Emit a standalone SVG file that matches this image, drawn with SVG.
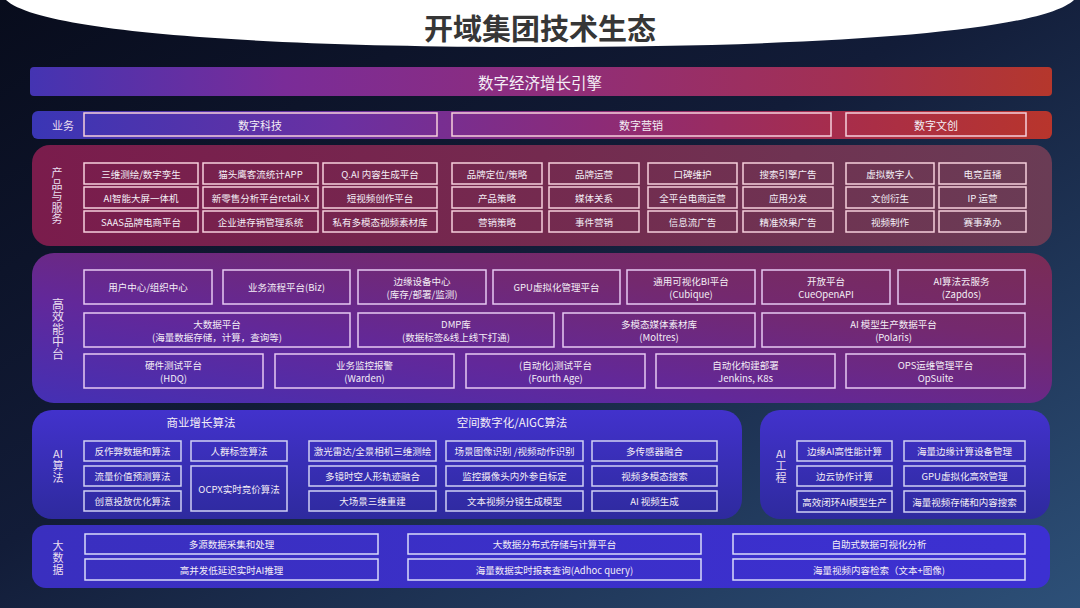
<svg xmlns="http://www.w3.org/2000/svg" width="1080" height="608" viewBox="0 0 1080 608">
<defs>
<linearGradient id="bg" x1="0" y1="0" x2="1" y2="1">
<stop offset="0" stop-color="#080c1c"/>
<stop offset="0.45" stop-color="#121c38"/>
<stop offset="1" stop-color="#2d5078"/>
</linearGradient>
<linearGradient id="banner" x1="0" y1="0" x2="1" y2="0">
<stop offset="0" stop-color="#4434b2"/>
<stop offset="0.25" stop-color="#7a2c98"/>
<stop offset="0.5" stop-color="#8e2d7c"/>
<stop offset="0.8" stop-color="#a33052"/>
<stop offset="1" stop-color="#b5372c"/>
</linearGradient>
<linearGradient id="biz" x1="0" y1="0" x2="1" y2="0">
<stop offset="0" stop-color="#3a36b5"/>
<stop offset="0.3" stop-color="#6a30a2"/>
<stop offset="0.55" stop-color="#8c2b78"/>
<stop offset="0.8" stop-color="#a82d4a"/>
<stop offset="1" stop-color="#b8352c"/>
</linearGradient>
<linearGradient id="prod" x1="0" y1="0" x2="1" y2="0">
<stop offset="0" stop-color="#7a1c4c"/>
<stop offset="0.5" stop-color="#742a4f"/>
<stop offset="1" stop-color="#6a3c55"/>
</linearGradient>
<linearGradient id="plat" x1="0" y1="1" x2="1" y2="0">
<stop offset="0" stop-color="#4430b4"/>
<stop offset="0.35" stop-color="#62289a"/>
<stop offset="0.7" stop-color="#74296e"/>
<stop offset="1" stop-color="#7a2c55"/>
</linearGradient>
<linearGradient id="ai" x1="0" y1="0" x2="0" y2="1">
<stop offset="0" stop-color="#4232cc"/>
<stop offset="1" stop-color="#2e2a9e"/>
</linearGradient>
<linearGradient id="bd" x1="0" y1="0" x2="1" y2="0">
<stop offset="0" stop-color="#3a2fbf"/>
<stop offset="1" stop-color="#3c30d2"/>
</linearGradient>
<style>
text{font-family:"Noto Sans CJK SC","Noto Sans",sans-serif;fill:#f4eef6;text-anchor:middle;dominant-baseline:central}
.t{font-size:9.5px}
.lb{font-size:11px;fill:#eadff0}
.v{writing-mode:vertical-rl;text-anchor:start;font-size:11px;fill:#eadff0;letter-spacing:0.5px}
.pb{fill:none;stroke:#f6cfdc;stroke-width:1.5}
.mb{fill:none;stroke:#e6c9f2;stroke-width:1.5}
.ab{fill:none;stroke:#cfd0f4;stroke-width:1.5}
.db{fill:none;stroke:#d9dafa;stroke-width:1.5}
</style>
</defs>
<rect width="1080" height="608" fill="url(#bg)"/>
<path d="M6 0 C40 32 260 47 540 47 C820 47 1040 32 1074 0 Z" fill="#ffffff"/>
<text x="540" y="27" style="font-size:29px;font-weight:bold;fill:#363636">开域集团技术生态</text>

<g id="banner">
<rect x="30" y="67" width="1022" height="29" rx="4" fill="url(#banner)"/>
<text x="540" y="81.5" style="font-size:15.5px">数字经济增长引擎</text>
</g>

<g id="business">
<rect x="32" y="111" width="1020" height="28" rx="6" fill="url(#biz)"/>
<text x="63" y="125" class="lb">业务</text>
<g id="biz-tech"><rect x="84" y="113" width="353" height="23" class="pb"/><text x="260" y="124.5" style="font-size:11px">数字科技</text></g>
<g id="biz-mkt"><rect x="452" y="113" width="379" height="23" class="pb"/><text x="641" y="124.5" style="font-size:11px">数字营销</text></g>
<g id="biz-culture"><rect x="846" y="113" width="180" height="23" class="pb"/><text x="936" y="124.5" style="font-size:11px">数字文创</text></g>
</g>

<g id="products">
<rect x="32" y="145" width="1020" height="101" rx="18" fill="url(#prod)"/>
<text x="57" y="167.5" class="v">产品与服务</text>
<g id="p1"><rect x="84" y="163" width="114" height="21" class="pb"/><text x="141" y="173.5" class="t">三维测绘/数字孪生</text></g>
<g id="p2"><rect x="203" y="163" width="115" height="21" class="pb"/><text x="260.5" y="173.5" class="t">猫头鹰客流统计APP</text></g>
<g id="p3"><rect x="323" y="163" width="114" height="21" class="pb"/><text x="380" y="173.5" class="t">Q.AI 内容生成平台</text></g>
<g id="p4"><rect x="84" y="187" width="114" height="21" class="pb"/><text x="141" y="197.5" class="t">AI智能大屏一体机</text></g>
<g id="p5"><rect x="203" y="187" width="115" height="21" class="pb"/><text x="260.5" y="197.5" class="t">新零售分析平台retail-X</text></g>
<g id="p6"><rect x="323" y="187" width="114" height="21" class="pb"/><text x="380" y="197.5" class="t">短视频创作平台</text></g>
<g id="p7"><rect x="84" y="211" width="114" height="21" class="pb"/><text x="141" y="221.5" class="t">SAAS品牌电商平台</text></g>
<g id="p8"><rect x="203" y="211" width="115" height="21" class="pb"/><text x="260.5" y="221.5" class="t">企业进存销管理系统</text></g>
<g id="p9"><rect x="323" y="211" width="114" height="21" class="pb"/><text x="380" y="221.5" class="t">私有多模态视频素材库</text></g>

<g id="m1"><rect x="452" y="163" width="90" height="21" class="pb"/><text x="497" y="173.5" class="t">品牌定位/策略</text></g>
<g id="m2"><rect x="549" y="163" width="90" height="21" class="pb"/><text x="594" y="173.5" class="t">品牌运营</text></g>
<g id="m3"><rect x="648" y="163" width="89" height="21" class="pb"/><text x="692.5" y="173.5" class="t">口碑维护</text></g>
<g id="m4"><rect x="743" y="163" width="90" height="21" class="pb"/><text x="788" y="173.5" class="t">搜索引擎广告</text></g>
<g id="m5"><rect x="452" y="187" width="90" height="21" class="pb"/><text x="497" y="197.5" class="t">产品策略</text></g>
<g id="m6"><rect x="549" y="187" width="90" height="21" class="pb"/><text x="594" y="197.5" class="t">媒体关系</text></g>
<g id="m7"><rect x="648" y="187" width="89" height="21" class="pb"/><text x="692.5" y="197.5" class="t">全平台电商运营</text></g>
<g id="m8"><rect x="743" y="187" width="90" height="21" class="pb"/><text x="788" y="197.5" class="t">应用分发</text></g>
<g id="m9"><rect x="452" y="211" width="90" height="21" class="pb"/><text x="497" y="221.5" class="t">营销策略</text></g>
<g id="m10"><rect x="549" y="211" width="90" height="21" class="pb"/><text x="594" y="221.5" class="t">事件营销</text></g>
<g id="m11"><rect x="648" y="211" width="89" height="21" class="pb"/><text x="692.5" y="221.5" class="t">信息流广告</text></g>
<g id="m12"><rect x="743" y="211" width="90" height="21" class="pb"/><text x="788" y="221.5" class="t">精准效果广告</text></g>

<g id="c1"><rect x="846" y="163" width="88" height="21" class="pb"/><text x="890" y="173.5" class="t">虚拟数字人</text></g>
<g id="c2"><rect x="939" y="163" width="87" height="21" class="pb"/><text x="982.5" y="173.5" class="t">电竞直播</text></g>
<g id="c3"><rect x="846" y="187" width="88" height="21" class="pb"/><text x="890" y="197.5" class="t">文创衍生</text></g>
<g id="c4"><rect x="939" y="187" width="87" height="21" class="pb"/><text x="982.5" y="197.5" class="t">IP 运营</text></g>
<g id="c5"><rect x="846" y="211" width="88" height="21" class="pb"/><text x="890" y="221.5" class="t">视频制作</text></g>
<g id="c6"><rect x="939" y="211" width="87" height="21" class="pb"/><text x="982.5" y="221.5" class="t">赛事承办</text></g>
</g>

<g id="platform">
<rect x="32" y="253" width="1020" height="150" rx="22" fill="url(#plat)"/>
<text x="58" y="298" class="v" style="font-size:12px">高效能中台</text>
<g id="h1"><rect x="84" y="270" width="128" height="34" class="mb"/><text x="148" y="287" class="t">用户中心/组织中心</text></g>
<g id="h2"><rect x="223" y="270" width="127" height="34" class="mb"/><text x="286.5" y="287" class="t">业务流程平台(Biz)</text></g>
<g id="h3"><rect x="358" y="270" width="128" height="34" class="mb"/><text x="422" y="280.5" class="t">边缘设备中心</text><text x="422" y="293.5" class="t">(库存/部署/监测)</text></g>
<g id="h4"><rect x="493" y="270" width="127" height="34" class="mb"/><text x="556.5" y="287" class="t">GPU虚拟化管理平台</text></g>
<g id="h5"><rect x="627" y="270" width="128" height="34" class="mb"/><text x="691" y="280.5" class="t">通用可视化BI平台</text><text x="691" y="293.5" class="t">(Cubique)</text></g>
<g id="h6"><rect x="762" y="270" width="128" height="34" class="mb"/><text x="826" y="280.5" class="t">开放平台</text><text x="826" y="293.5" class="t">CueOpenAPI</text></g>
<g id="h7"><rect x="898" y="270" width="127" height="34" class="mb"/><text x="961.5" y="280.5" class="t">AI算法云服务</text><text x="961.5" y="293.5" class="t">(Zapdos)</text></g>
<g id="h8"><rect x="84" y="313" width="266" height="34" class="mb"/><text x="217" y="323.5" class="t">大数据平台</text><text x="217" y="336.5" class="t">(海量数据存储，计算，查询等)</text></g>
<g id="h9"><rect x="358" y="313" width="196" height="34" class="mb"/><text x="456" y="323.5" class="t">DMP库</text><text x="456" y="336.5" class="t">(数据标签&amp;线上线下打通)</text></g>
<g id="h10"><rect x="563" y="313" width="192" height="34" class="mb"/><text x="659" y="323.5" class="t">多模态媒体素材库</text><text x="659" y="336.5" class="t">(Moltres)</text></g>
<g id="h11"><rect x="762" y="313" width="263" height="34" class="mb"/><text x="893.5" y="323.5" class="t">AI 模型生产数据平台</text><text x="893.5" y="336.5" class="t">(Polaris)</text></g>
<g id="h12"><rect x="84" y="354" width="179" height="34" class="mb"/><text x="173.5" y="364.5" class="t">硬件测试平台</text><text x="173.5" y="377.5" class="t">(HDQ)</text></g>
<g id="h13"><rect x="275" y="354" width="179" height="34" class="mb"/><text x="364.5" y="364.5" class="t">业务监控报警</text><text x="364.5" y="377.5" class="t">(Warden)</text></g>
<g id="h14"><rect x="466" y="354" width="179" height="34" class="mb"/><text x="555.5" y="364.5" class="t">(自动化)测试平台</text><text x="555.5" y="377.5" class="t">(Fourth Age)</text></g>
<g id="h15"><rect x="656" y="354" width="179" height="34" class="mb"/><text x="745.5" y="364.5" class="t">自动化构建部署</text><text x="745.5" y="377.5" class="t">Jenkins, K8s</text></g>
<g id="h16"><rect x="846" y="354" width="179" height="34" class="mb"/><text x="935.5" y="364.5" class="t">OPS运维管理平台</text><text x="935.5" y="377.5" class="t">OpSuite</text></g>
</g>

<g id="ai-algo">
<rect x="32" y="410" width="710" height="109" rx="20" fill="url(#ai)"/>
<text x="58" y="452.5" class="lb">AI</text>
<text x="58" y="460.5" class="v">算法</text>
<text x="201" y="422" style="font-size:11.5px">商业增长算法</text>
<text x="512" y="422" style="font-size:11.5px">空间数字化/AIGC算法</text>
<g id="a1"><rect x="84" y="441" width="97" height="20" class="ab"/><text x="132.5" y="451" class="t">反作弊数据和算法</text></g>
<g id="a2"><rect x="84" y="466" width="97" height="20" class="ab"/><text x="132.5" y="476" class="t">流量价值预测算法</text></g>
<g id="a3"><rect x="84" y="491" width="97" height="20" class="ab"/><text x="132.5" y="501" class="t">创意投放优化算法</text></g>
<g id="a4"><rect x="191" y="441" width="96" height="20" class="ab"/><text x="239" y="451" class="t">人群标签算法</text></g>
<g id="a5"><rect x="191" y="466" width="96" height="45" class="ab"/><text x="239" y="488.5" class="t">OCPX实时竞价算法</text></g>
<g id="a6"><rect x="309" y="441" width="127" height="20" class="ab"/><text x="372.5" y="451" class="t">激光雷达/全景相机三维测绘</text></g>
<g id="a7"><rect x="309" y="466" width="127" height="20" class="ab"/><text x="372.5" y="476" class="t">多镜时空人形轨迹融合</text></g>
<g id="a8"><rect x="309" y="491" width="127" height="20" class="ab"/><text x="372.5" y="501" class="t">大场景三维重建</text></g>
<g id="a9"><rect x="446" y="441" width="137" height="20" class="ab"/><text x="514.5" y="451" class="t">场景图像识别 /视频动作识别</text></g>
<g id="a10"><rect x="446" y="466" width="137" height="20" class="ab"/><text x="514.5" y="476" class="t">监控摄像头内外参自标定</text></g>
<g id="a11"><rect x="446" y="491" width="137" height="20" class="ab"/><text x="514.5" y="501" class="t">文本视频分镜生成模型</text></g>
<g id="a12"><rect x="592" y="441" width="125" height="20" class="ab"/><text x="654.5" y="451" class="t">多传感器融合</text></g>
<g id="a13"><rect x="592" y="466" width="125" height="20" class="ab"/><text x="654.5" y="476" class="t">视频多模态搜索</text></g>
<g id="a14"><rect x="592" y="491" width="125" height="20" class="ab"/><text x="654.5" y="501" class="t">AI 视频生成</text></g>
</g>

<g id="ai-eng">
<rect x="760" y="410" width="290" height="109" rx="20" fill="url(#ai)"/>
<text x="781" y="452.5" class="lb">AI</text>
<text x="781" y="460.5" class="v">工程</text>
<g id="e1"><rect x="797" y="441" width="95" height="20" class="ab"/><text x="844.5" y="451" class="t">边缘AI高性能计算</text></g>
<g id="e2"><rect x="797" y="466" width="95" height="20" class="ab"/><text x="844.5" y="476" class="t">边云协作计算</text></g>
<g id="e3"><rect x="797" y="491" width="95" height="21" class="ab"/><text x="844.5" y="501.5" class="t">高效闭环AI模型生产</text></g>
<g id="e4"><rect x="904" y="441" width="121" height="20" class="ab"/><text x="964.5" y="451" class="t">海量边缘计算设备管理</text></g>
<g id="e5"><rect x="904" y="466" width="121" height="20" class="ab"/><text x="964.5" y="476" class="t">GPU虚拟化高效管理</text></g>
<g id="e6"><rect x="904" y="491" width="121" height="21" class="ab"/><text x="964.5" y="501.5" class="t">海量视频存储和内容搜索</text></g>
</g>

<g id="bigdata">
<rect x="32" y="525" width="1018" height="63" rx="14" fill="url(#bd)"/>
<text x="58" y="540.5" class="v" style="letter-spacing:1px">大数据</text>
<g id="d1"><rect x="85" y="534" width="293" height="20" class="db"/><text x="231.5" y="544" class="t">多源数据采集和处理</text></g>
<g id="d2"><rect x="408" y="534" width="293" height="20" class="db"/><text x="554.5" y="544" class="t">大数据分布式存储与计算平台</text></g>
<g id="d3"><rect x="733" y="534" width="292" height="20" class="db"/><text x="879" y="544" class="t">自助式数据可视化分析</text></g>
<g id="d4"><rect x="85" y="559" width="293" height="21" class="db"/><text x="231.5" y="569.5" class="t">高并发低延迟实时AI推理</text></g>
<g id="d5"><rect x="408" y="559" width="293" height="21" class="db"/><text x="554.5" y="569.5" class="t">海量数据实时报表查询(Adhoc query)</text></g>
<g id="d6"><rect x="733" y="559" width="292" height="21" class="db"/><text x="879" y="569.5" class="t">海量视频内容检索（文本+图像)</text></g>
</g>

<g id="connectors"/>
</svg>
